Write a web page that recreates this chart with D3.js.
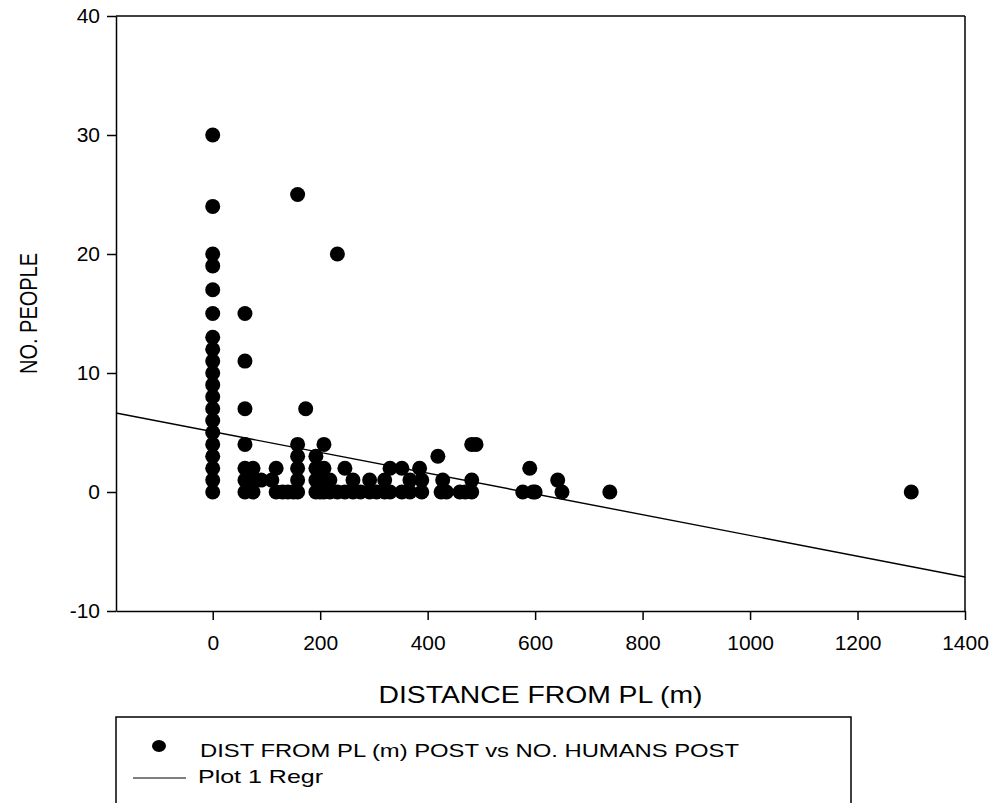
<!DOCTYPE html>
<html>
<head>
<meta charset="utf-8">
<script src="https://cdn.jsdelivr.net/npm/d3@7"></script>
<style>
  body { margin: 0; background: #fff; }
  svg text { font-family: "Liberation Sans", Arial, sans-serif; fill: #000; }
</style>
</head>
<body>
<svg id="chart"></svg>
<script>
// distance from PL (m) and number of people, one entry per point
const distance = [
  0,0,0,0,0,0,0,0,0,0,0,0,0,0,0,0,0,0,0,0,
  60,60,60,60,60,60,60,
  75,75,75, 90, 110, 118,118, 130, 140, 150,
  158,158,158,158,158,158, 173,
  192,192,192,192, 200, 207,207,207,207, 218,218, 232,232,
  246,246, 261,261, 275, 292,292, 305, 320,320, 330,330,
  352,352, 367,367, 385, 389,389, 419, 425, 428, 435, 460, 470,
  482,482,482, 490, 577, 590, 596, 600, 642, 650, 739, 1300
]
const people = [
  0,1,2,3,4,5,6,7,8,9,10,11,12,13,15,17,19,20,24,30,
  0,1,2,4,7,11,15,
  0,1,2, 1, 1, 0,2, 0, 0, 0,
  0,1,2,3,4,25, 7,
  0,1,2,3, 0, 0,1,2,4, 0,1, 0,20,
  0,2, 0,1, 0, 0,1, 0, 0,1, 0,2,
  0,2, 0,1, 2, 0,1, 3, 0, 1, 0, 0, 0,
  0,1,4, 4, 0, 2, 0, 0, 1, 0, 0, 0
]
// regression line read at the plot edges
const regrX = [-180, 1400]
const regrY = [6.64, -7.14]

const xTicks = [0, 200, 400, 600, 800, 1000, 1200, 1400]
const yTicks = [-10, 0, 10, 20, 30, 40]

const config = {
  width: 995, height: 803,
  left: 116, right: 965, top: 16, bottom: 611
}

const svg = d3.select('#chart')
  .attr('width', config.width)
  .attr('height', config.height)

const xScale = d3.scaleLinear().domain([-180, 1400]).range([config.left, config.right])
const yScale = d3.scaleLinear().domain([-10, 40]).range([config.bottom, config.top])

const data = distance.map((d, i) => ({x: d, y: people[i]}))

// regression line
svg.append('line')
  .attr('x1', xScale(regrX[0])).attr('y1', yScale(regrY[0]))
  .attr('x2', xScale(regrX[1])).attr('y2', yScale(regrY[1]))
  .attr('stroke', '#000').attr('stroke-width', 1.4)

// points
svg.selectAll('.dot')
  .data(data)
  .join('circle')
    .attr('class', 'dot')
    .attr('cx', d => xScale(d.x))
    .attr('cy', d => yScale(d.y))
    .attr('r', 7.5)
    .attr('fill', '#000')

// frame top / right
svg.append('line')
  .attr('x1', config.left).attr('x2', config.right)
  .attr('y1', config.top).attr('y2', config.top)
  .attr('stroke', '#000').attr('stroke-width', 1.5)
svg.append('line')
  .attr('x1', config.right).attr('x2', config.right)
  .attr('y1', config.top).attr('y2', config.bottom)
  .attr('stroke', '#000').attr('stroke-width', 1.5)

const xAxis = d3.axisBottom(xScale).tickValues(xTicks).tickFormat(d => String(d))
  .tickSize(9).tickSizeOuter(0).tickPadding(15)
const yAxis = d3.axisLeft(yScale).tickValues(yTicks).tickFormat(d => String(d))
  .tickSize(9).tickSizeOuter(0).tickPadding(7)

const xAxisG = svg.append('g')
  .attr('transform', `translate(0,${config.bottom})`)
  .call(xAxis)
const yAxisG = svg.append('g')
  .attr('transform', `translate(${config.left},0)`)
  .call(yAxis)

;[xAxisG, yAxisG].forEach(g => {
  g.attr('font-size', null).attr('font-family', null)
  g.selectAll('path, line').attr('stroke', '#000').attr('stroke-width', 1.5)
  g.selectAll('text').style('font-size', '21px').attr('fill', '#000')
})

// axis titles
svg.append('text')
  .attr('x', (config.left + config.right) / 2)
  .attr('y', 703)
  .attr('text-anchor', 'middle')
  .style('font-size', '24px')
  .attr('textLength', 324)
  .attr('lengthAdjust', 'spacingAndGlyphs')
  .text('DISTANCE FROM PL (m)')

svg.append('text')
  .attr('transform', `translate(37,${(config.top + config.bottom) / 2}) scale(1.2,1) rotate(-90)`)
  .attr('text-anchor', 'middle')
  .style('font-size', '20px')
  .text('NO. PEOPLE')

// legend
const legend = svg.append('g')
legend.append('rect')
  .attr('x', 116).attr('y', 717)
  .attr('width', 735).attr('height', 120)
  .attr('fill', 'none').attr('stroke', '#000').attr('stroke-width', 1.5)
legend.append('ellipse')
  .attr('cx', 159).attr('cy', 746).attr('rx', 7).attr('ry', 6).attr('fill', '#000')
legend.append('text')
  .attr('x', 200).attr('y', 757)
  .style('font-size', '19px')
  .attr('textLength', 539)
  .attr('lengthAdjust', 'spacingAndGlyphs')
  .text('DIST FROM PL (m) POST vs NO. HUMANS POST')
legend.append('line')
  .attr('x1', 133).attr('x2', 186)
  .attr('y1', 778).attr('y2', 778)
  .attr('stroke', '#000').attr('stroke-width', 1.2)
legend.append('text')
  .attr('x', 198).attr('y', 783)
  .style('font-size', '19px')
  .attr('textLength', 125)
  .attr('lengthAdjust', 'spacingAndGlyphs')
  .text('Plot 1 Regr')
</script>
</body>
</html>
